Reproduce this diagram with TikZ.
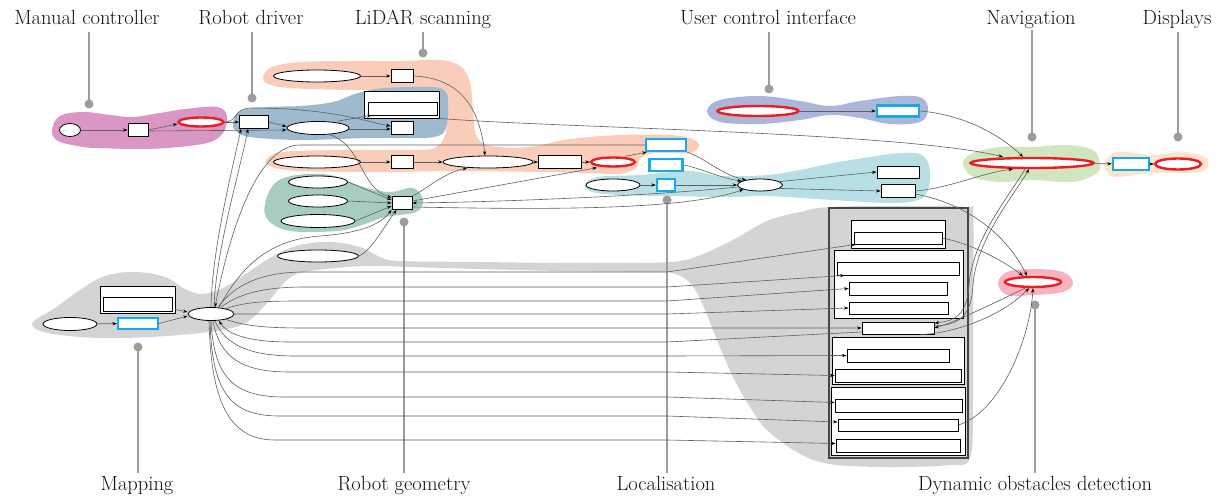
\documentclass[tikz,border=0pt]{standalone}
\usepackage{fontspec}
\usetikzlibrary{shapes.geometric,arrows.meta}
\definecolor{cPink}{RGB}{218,150,197}
\definecolor{cBlue}{RGB}{158,186,206}
\definecolor{cPeach}{RGB}{250,204,186}
\definecolor{cTeal}{RGB}{167,205,195}
\definecolor{cCyan}{RGB}{184,224,228}
\definecolor{cLav}{RGB}{172,182,218}
\definecolor{cGreen}{RGB}{209,229,191}
\definecolor{cOrange}{RGB}{253,228,202}
\definecolor{cRose}{RGB}{246,180,192}
\definecolor{cGray}{RGB}{211,212,214}
\definecolor{cRed}{RGB}{236,28,36}
\definecolor{cSky}{RGB}{20,170,235}
\definecolor{cEdge}{RGB}{95,95,95}
\definecolor{cPtr}{RGB}{155,156,160}
\definecolor{cFrame}{RGB}{70,70,70}
\definecolor{cText}{RGB}{20,20,20}
\begin{document}
\begin{tikzpicture}[x=1pt,y=-1pt,
  sz/.style 2 args={minimum width=#1,minimum height=#2},
  ell/.style={ellipse,draw=black,fill=white,line width=0.8pt,inner sep=0pt},
  rell/.style={ellipse,draw=cRed,fill=white,line width=2.4pt,inner sep=0pt},
  bx/.style={rectangle,draw=black,fill=white,line width=0.9pt,inner sep=0pt},
  bbx/.style={rectangle,draw=cSky,fill=white,line width=2.4pt,inner sep=0pt},
  cl/.style={draw=black,fill=white,line width=0.9pt},
  ed/.style={draw=cEdge,line width=0.6pt,-{Stealth[length=4.5pt,width=3.2pt,color=black]}},
  ptr/.style={draw=cPtr,line width=2.8pt},
  lbl/.style={text=cText,font=\fontsize{20.5}{24}\selectfont,inner sep=0pt,anchor=base}
]
\useasboundingbox (0,0) rectangle (1226,497);
\fill[white] (0,0) rectangle (1226,497);

% ---------- blobs ----------
\fill[cGray] plot[smooth cycle,tension=0.6] coordinates {
 (33,322) (55,308) (80,290) (105,276) (135,272) (165,277) (185,289) (203,294) (225,287) (250,271) (275,255) (300,245) (330,242) (360,247) (380,257) (400,261) (480,262) (560,263) (640,263) (680,261) (703,254) (733,240) (767,221) (800,212) (830,207) (900,206) (966,207) (973,215) (973,300) (973,400) (970,458) (950,465) (900,467) (850,466) (820,462) (795,451) (767,430) (750,407) (733,377) (717,340) (702,303) (690,283) (672,273) (640,272) (560,271) (480,269) (410,267) (370,266) (335,268) (300,273) (285,282) (268,302) (250,320) (232,328) (200,333) (150,337) (100,338) (60,335) (38,330)};
\fill[cPeach] plot[smooth cycle,tension=0.55] coordinates {
 (263,77) (272,67) (300,62) (350,61) (400,61) (440,60) (460,66) (470,82) (473,110) (476,135) (490,146) (530,147) (570,139) (620,135) (670,135) (693,139) (699,146) (690,153) (655,153) (641,158) (636,168) (620,174) (590,173) (540,172) (460,171) (380,172) (300,171) (272,167) (266,160) (282,152) (340,150) (420,150) (438,146) (446,132) (447,105) (440,93) (420,89) (350,90) (290,88) (268,84)};
\fill[cPink] plot[smooth cycle,tension=0.6] coordinates {
 (52,130) (60,116) (83,112) (110,115) (133,117) (160,113) (185,109) (217,107) (227,116) (223,133) (207,143) (167,148) (133,149) (100,148) (83,147) (58,141)};
\fill[cBlue] plot[smooth cycle,tension=0.6] coordinates {
 (233,124) (240,111) (267,107) (300,106) (333,102) (358,93) (385,88) (430,87) (444,90) (448,100) (446,128) (434,137) (400,138) (367,138) (300,140) (250,137) (236,131)};
\fill[cTeal] plot[smooth cycle,tension=0.6] coordinates {
 (265,204) (275,183) (297,175) (330,175) (363,187) (390,192) (413,188) (423,200) (416,212) (385,217) (362,225) (337,231) (290,231) (268,220)};
\fill[cCyan] plot[smooth cycle,tension=0.6] coordinates {
 (585,185) (598,177) (640,175) (690,171) (720,176) (767,175) (800,170) (833,163) (870,157) (900,153) (922,155) (930,170) (928,190) (918,200) (890,203) (833,200) (767,196) (733,197) (667,196) (620,195) (592,192)};
\fill[cLav] plot[smooth cycle,tension=0.6] coordinates {
 (707,111) (720,100) (760,96) (800,101) (830,106) (860,101) (900,96) (922,98) (928,110) (920,122) (890,124) (860,118) (830,115) (800,120) (760,124) (720,122)};
\fill[cGreen] plot[smooth cycle,tension=0.6] coordinates {
 (963,163) (973,153) (1000,147) (1033,147) (1067,145) (1093,150) (1100,163) (1097,173) (1073,182) (1033,180) (1000,182) (973,177)};
\fill[cOrange] plot[smooth cycle,tension=0.6] coordinates {
 (1105,163) (1117,152) (1153,155) (1183,152) (1205,157) (1208,164) (1200,172) (1153,173) (1117,177) (1107,172)};
\fill[cRose] plot[smooth cycle,tension=0.6] coordinates {
 (998,283) (1007,272) (1033,269) (1063,272) (1073,283) (1063,292) (1033,295) (1007,295)};

% ---------- stack frame and clusters ----------
\draw[fill=cGray,draw=cFrame,line width=1.3pt] (829,208) rectangle (968,458);
\draw[cl] (851,220) rectangle (945,248);
\draw[cl] (834,250) rectangle (963,318);
\draw[cl] (832,337) rectangle (964,384);
\draw[cl] (831,387) rectangle (965,455);

% ---------- pointers ----------
\foreach \px/\ya/\yb/\yd in {89/32/104/104, 252/32/98/98, 423/32/53/53, 769/32/89/89, 1032/30/137/137, 1178/32/137/137, 138/347/473/347, 404/222/473/222, 667/200/473/200, 1035/305/473/305}{
  \draw[ptr] (\px,\ya) -- (\px,\yb);
  \fill[cPtr] (\px,\yd) circle (4.5pt);
}

% ---------- nodes ----------
\node[ell,sz={21}{13}] (mc1) at (70,130) {};
\node[bx,sz={20}{13}] (mc2) at (138,130) {};
\node[rell,sz={45}{9}] (mc3) at (201,122) {};
\node[bx,sz={29}{13}] (rd1) at (254,122) {};
\node[ell,sz={62}{13}] (rd2) at (318,128) {};
\node[bx,sz={22}{13}] (rd3) at (402,128) {};
\node[bx,sz={75}{27}] (rd4) at (401.5,104.5) {};
\node[bx,sz={69}{13}] (rd4i) at (402.5,108.5) {};
\node[ell,sz={87}{12}] (ls1) at (317,76) {};
\node[bx,sz={22}{13}] (ls2) at (402,76) {};
\node[ell,sz={87}{12}] (ls3) at (317,162) {};
\node[bx,sz={22}{13}] (ls4) at (402,162) {};
\node[ell,sz={90}{12}] (ls5) at (488,162) {};
\node[bx,sz={43}{13}] (ls6) at (560,162) {};
\node[rell,sz={44}{9}] (ls7) at (613,162) {};
\node[bbx,sz={40}{12}] (lb1) at (666,145) {};
\node[bbx,sz={33}{12}] (lb2) at (666,165) {};
\node[bbx,sz={18}{12}] (lb3) at (666,185) {};
\node[ell,sz={54}{12}] (le1) at (613,185) {};
\node[ell,sz={45}{12}] (le2) at (760,185) {};
\node[bx,sz={42}{12}] (lo1) at (898,172) {};
\node[bx,sz={34}{13}] (lo2) at (898,191) {};
\node[rell,sz={81}{10}] (uc1) at (758,111) {};
\node[bbx,sz={42}{11}] (uc2) at (898,111) {};
\node[rell,sz={123}{10}] (nv) at (1032,163) {};
\node[bbx,sz={36}{12}] (ds1) at (1131,164) {};
\node[rell,sz={46}{11}] (ds2) at (1178,164) {};
\node[rell,sz={56}{10}] (dy) at (1033,282) {};
\node[ell,sz={59}{12}] (rg1) at (318,182) {};
\node[ell,sz={59}{12}] (rg2) at (318,201) {};
\node[ell,sz={74}{13}] (rg3) at (318,221) {};
\node[bx,sz={20}{13}] (rg4) at (402,203) {};
\node[ell,sz={54}{13}] (mp1) at (70,324) {};
\node[bbx,sz={40}{11}] (mp2) at (138,323.5) {};
\node[bx,sz={75}{27}] (mp3) at (137.5,299.5) {};
\node[bx,sz={69}{14}] (mp3i) at (137.5,304) {};
\node[ell,sz={46}{13}] (mp4) at (211,314) {};
\node[ell,sz={81}{12}] (mp5) at (318,256) {};
\node[bx,sz={88}{12}] (cA1) at (898,238) {};
\node[bx,sz={122}{13}] (cB1) at (898,268.5) {};
\node[bx,sz={98}{13}] (cB2) at (898,288.5) {};
\node[bx,sz={99}{12}] (cB3) at (898.5,308) {};
\node[bx,sz={72}{12}] (sa) at (898,328) {};
\node[bx,sz={102}{13}] (cC1) at (898,355.5) {};
\node[bx,sz={126}{13}] (cC2) at (898,375.5) {};
\node[bx,sz={127}{13}] (cD1) at (898.5,405.5) {};
\node[bx,sz={120}{12}] (cD2) at (898,425) {};
\node[bx,sz={124}{13}] (cD3) at (898,445.5) {};

% ---------- edges ----------
\draw[ed] (mc1) -- (mc2);
\draw[ed] (mc2.east) -- ([yshift=-2pt]mc3.west);
\draw[ed] ([yshift=-1pt]mc2.east) -- ([yshift=-2pt]rd2.west);
\draw[ed] (mc3.east) -- (rd1.west);
\draw[ed] (mc3.east) .. controls (238,122) and (233,108) .. (252,108) .. controls (330,108) and (368,122) .. ([yshift=2pt]rd3.west);
\draw[ed] (rd1.east) -- ([yshift=1.5pt]rd2.west);
\draw[ed] ([yshift=-1pt]rd2.east) -- ([yshift=-1pt]rd3.west);
\draw[ed] ([xshift=20pt]rd2.north) .. controls (350,119) and (362,117) .. ([xshift=4pt]rd4i.south west);
\draw[ed] (ls1) -- (ls2);
\draw[ed] (ls2.east) .. controls (462,78) and (480,110) .. ([xshift=-3pt]ls5.north);
\draw[ed] (ls3) -- (ls4);
\draw[ed] (ls4) -- (ls5);
\draw[ed] (ls5) -- (ls6);
\draw[ed] (ls6) -- (ls7);
\draw[ed] ([xshift=12pt]ls7.north) -- ([xshift=2pt]lb1.south west);
\draw[ed] (rg1.east) -- ([yshift=3pt]rg4.west);
\draw[ed] (rg2.east) -- (rg4.west);
\draw[ed] (rg3.east) -- ([yshift=-3pt]rg4.west);
\draw[ed] ([xshift=12pt]rd2.south) .. controls (362,145) and (360,188) .. ([yshift=5.5pt]rg4.west);
\draw[ed] (rg4.north east) .. controls (425,190) and (445,172) .. ([xshift=-21pt]ls5.south);
\draw[ed] ([yshift=2pt]rg4.east) -- ([xshift=-16pt]ls7.south);
\draw[ed] (le2.185) .. controls (650,196) and (500,202) .. (rg4.east);
\draw[ed] ([yshift=-4pt]rg4.east) .. controls (520,209) and (680,212) .. (le2.195);
\draw[ed] (lb1.south east) .. controls (705,158) and (722,175) .. (le2.160);
\draw[ed] (lb2.east) .. controls (700,168) and (720,178) .. (le2.168);
\draw[ed] (lb3) -- (le2);
\draw[ed] (le1) -- (lb3);
\draw[ed] (le2.10) -- (lo1.west);
\draw[ed] (le2.-10) -- (lo2.west);
\draw[ed] (lo2.east) .. controls (950,188) and (985,172) .. ([xshift=-19pt]nv.south);
\draw[ed] ([yshift=-3pt]lo2.east) .. controls (972,205) and (1008,238) .. ([xshift=-6pt]dy.north);
\draw[ed] (uc1) -- (uc2);
\draw[ed] (uc2.east) .. controls (965,115) and (1000,135) .. ([xshift=-9pt]nv.north);
\draw[ed] (rd4.south east) .. controls (560,128) and (900,132) .. ([xshift=-29pt]nv.north);
\draw[ed] (nv) -- (ds1);
\draw[ed] (ds1) -- (ds2);
\draw[ed] ([xshift=-7pt]nv.south) .. controls (1010,195) and (972,240) .. (969,285) .. controls (967,315) and (955,321) .. ([yshift=5pt]sa.east);
\draw[ed] ([yshift=2pt]sa.east) .. controls (958,325) and (971,318) .. (973,285) .. controls (976,240) and (1014,195) .. ([xshift=-3pt]nv.south);
\draw[ed] ([xshift=-8pt]dy.south) .. controls (990,305) and (955,322) .. (sa.east);
\draw[ed] ([xshift=-14pt]sa.south east) .. controls (950,334) and (1000,318) .. ([xshift=-4pt]dy.south);
\draw[ed] (cD2.east) .. controls (1000,412) and (1030,340) .. (dy.south);
\draw[ed] (cA1.east) .. controls (975,245) and (1005,262) .. ([xshift=-10pt]dy.north);
% mapping
\draw[ed] (mp1) -- (mp2);
\draw[ed] (mp2.east) -- ([yshift=-2pt]mp4.west);
\draw[ed] ([yshift=4pt]mp3.south east) -- ([yshift=2pt]mp4.west);
\draw[ed] (lb1.west) -- (300,145) .. controls (260,145) and (232,220) .. ([xshift=4pt]mp4.north);
\draw[ed] (mp4.north) .. controls (212,250) and (232,170) .. ([xshift=-13pt]rd1.south);
\draw[ed] ([xshift=3pt]mp4.north) .. controls (216,250) and (240,170) .. ([xshift=-6pt]rd1.south);
\draw[ed] ([xshift=8pt]mp4.north) .. controls (240,270) and (265,240) .. (320,236) .. controls (360,233) and (380,225) .. (rg4.south west);
\draw[ed] (mp5.east) .. controls (372,250) and (385,225) .. ([xshift=5pt]rg4.south west);
\draw[ed] ([xshift=7pt]mp4.north) .. controls (235,285) and (260,272) .. (305,272) -- (667,272) -- ([xshift=2pt]cA1.south west);
\draw[ed] ([xshift=10pt]mp4.north) .. controls (240,293) and (265,287) .. (305,287) -- (667,287) -- ([xshift=8pt]cB1.south west);
\draw[ed] (mp4.20) .. controls (245,302) and (265,301) .. (300,301) -- (667,301) -- (cB2.west);
\draw[ed] (mp4.east) -- (667,314) -- (cB3.west);
\draw[ed] (mp4.-20) .. controls (245,326) and (265,328) .. (305,328) -- (sa.west);
\draw[ed] ([yshift=-4pt]sa.west) -- (667,342) -- (290,342) .. controls (250,342) and (228,335) .. ([xshift=8pt]mp4.south);
\draw[ed] ([xshift=4pt]mp4.south) .. controls (225,345) and (250,356) .. (295,356) -- (667,356) -- (cC1.west);
\draw[ed] ([xshift=2pt]mp4.south) .. controls (220,360) and (245,372) .. (290,372) -- (667,372) -- (cC2.west);
\draw[ed] (mp4.south) .. controls (214,382) and (238,397) .. (285,397) -- (667,397) -- ([yshift=3pt]cD1.west);
\draw[ed] ([xshift=-1pt]mp4.south) .. controls (212,395) and (232,416) .. (280,416) -- (667,416) -- ([yshift=3pt]cD2.west);
\draw[ed] ([xshift=-2pt]mp4.south) .. controls (211,400) and (228,440) .. (275,440) -- (667,440) -- ([yshift=2pt]cD3.west);

% ---------- labels ----------
\node[lbl] (t1) at (87,25) {Manual controller};
\node[lbl] (t2) at (251,25) {Robot driver};
\node[lbl] (t3) at (423,25) {LiDAR scanning};
\node[lbl] (t4) at (768,25) {User control interface};
\node[lbl] (t5) at (1031,25) {Navigation};
\node[lbl] (t6) at (1177,25) {Displays};
\node[lbl] (b1) at (137,490) {Mapping};
\node[lbl] (b2) at (404,490) {Robot geometry};
\node[lbl] (b3) at (666,490) {Localisation};
\node[lbl] (b4) at (1035,490) {Dynamic obstacles detection};
\end{tikzpicture}
\end{document}
